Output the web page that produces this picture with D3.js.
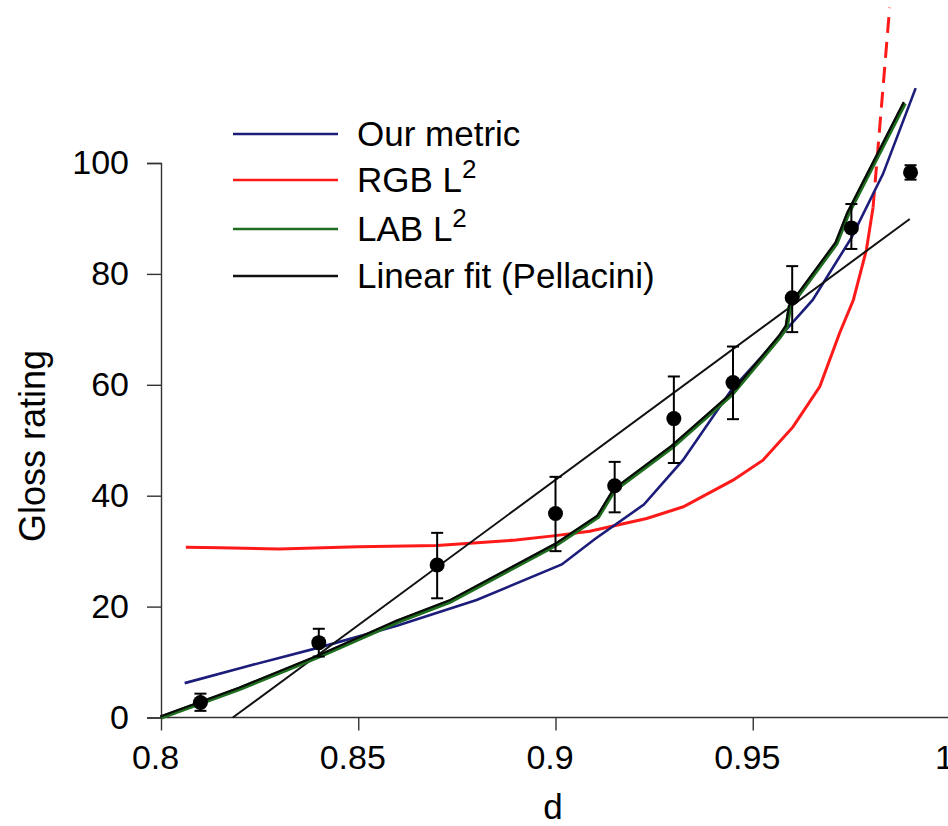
<!DOCTYPE html>
<html>
<head>
<meta charset="utf-8">
<script src="https://cdn.jsdelivr.net/npm/d3@7"></script>
<style>
    body { margin: 0; background: #fff; }
    svg { display: block; font-family: "Liberation Sans", Arial, sans-serif; }
</style>
</head>
<body>
<div id="chart"></div>
<script>
;(function () {

    // measured gloss ratings, with error bar ends
    var pointD = [0.81, 0.84, 0.87, 0.9, 0.915, 0.93, 0.945, 0.96, 0.975, 0.99];
    var pointRating = [2.7, 13.5, 27.5, 36.8, 41.8, 53.9, 60.4, 75.7, 88.3, 98.3];
    var pointLow = [1.2, 11.0, 21.5, 30.0, 37.0, 45.9, 53.8, 69.5, 84.5, 97.0];
    var pointHigh = [4.3, 16.0, 33.3, 43.4, 46.1, 61.5, 66.9, 81.4, 92.6, 99.6];

    // Our metric
    var metricD = [0.806, 0.82, 0.84, 0.86, 0.88, 0.9016, 0.91, 0.9224, 0.9323, 0.9446, 0.9569, 0.9652, 0.975, 0.983, 0.9913];
    var metricY = [6.2, 8.9, 12.6, 16.6, 21.2, 27.6, 32.2, 38.4, 46.4, 59.1, 68.7, 75.3, 86.5, 98.0, 113.5];

    // RGB L2 (solid part, then dashed continuation)
    var rgbD = [0.8063, 0.815, 0.83, 0.85, 0.87, 0.89, 0.9, 0.9087, 0.9231, 0.9324, 0.945, 0.9526, 0.9602, 0.967, 0.972, 0.9755, 0.9788, 0.9805];
    var rgbY = [30.7, 30.6, 30.4, 30.8, 31.0, 32.0, 32.8, 33.6, 35.9, 38.0, 42.8, 46.4, 52.4, 59.7, 69.3, 75.3, 84.3, 92.0];
    var rgbDashD = [0.9805, 0.9826, 0.9847];
    var rgbDashY = [92.0, 110.0, 128.0];

    // LAB L2
    var labD = [0.8, 0.82, 0.84, 0.86, 0.8732, 0.9, 0.9108, 0.9149, 0.9296, 0.9446, 0.9569, 0.9586, 0.9594, 0.9712, 0.9742, 0.9885];
    var labY = [0, 5.2, 11.0, 17.3, 20.9, 31.1, 36.2, 41.0, 48.8, 58.2, 68.7, 70.5, 74.1, 85.5, 90.9, 110.8];

    // Linear fit (Pellacini)
    var linearD = [0.8182, 0.9898];
    var linearY = [0, 89.9];

    var xTicks = [0.8, 0.85, 0.9, 0.95, 1];
    var yTicks = [0, 20, 40, 60, 80, 100];

    var legendNames = ['Our metric', 'RGB L', 'LAB L', 'Linear fit (Pellacini)'];
    var legendSup = ['', '2', '2', ''];
    var legendColors = ['#1c1c7a', '#ff1a1a', '#1f6e1f', '#111111'];

    var width = 948
        , height = 826;

    var x = d3.scaleLinear().domain([0.8, 1]).range([161, 950]);
    var y = d3.scaleLinear().domain([0, 100]).range([717.5, 163]);

    var svg = d3.select('#chart').append('svg')
        .attr('width', width)
        .attr('height', height);

    function zip(xs, ys) {
        return xs.map(function (d, i) { return [d, ys[i]]; });
    }

    var line = d3.line()
        .x(function (d) { return x(d[0]); })
        .y(function (d) { return y(d[1]); });

    // axes
    var xAxis = svg.append('g')
        .attr('transform', 'translate(0,' + y(0) + ')')
        .call(d3.axisBottom(x).tickValues(xTicks).tickSize(13).tickPadding(14)
            .tickFormat(function (d) { return d === 1 ? '1' : String(d); }));
    xAxis.select('.domain').attr('d', 'M' + x(0.8) + ',0H' + width);
    xAxis.selectAll('.tick text').attr('dx', -6);

    var yAxis = svg.append('g')
        .attr('transform', 'translate(' + x(0.8) + ',0)')
        .call(d3.axisLeft(y).tickValues(yTicks).tickSize(14).tickPadding(18));

    svg.selectAll('.domain, .tick line')
        .attr('stroke', '#333')
        .attr('stroke-width', 1.4);
    svg.selectAll('.tick text')
        .attr('font-size', 34)
        .attr('fill', '#000')
        .attr('font-family', '"Liberation Sans", Arial, sans-serif');

    svg.append('text')
        .attr('transform', 'translate(45,446) rotate(-90)')
        .attr('text-anchor', 'middle')
        .attr('font-size', 36)
        .text('Gloss rating');

    svg.append('text')
        .attr('x', 553)
        .attr('y', 819)
        .attr('text-anchor', 'middle')
        .attr('font-size', 35)
        .text('d');

    // curves
    svg.append('path')
        .datum(zip(rgbD, rgbY))
        .attr('fill', 'none')
        .attr('stroke', legendColors[1])
        .attr('stroke-width', 3)
        .attr('d', line);
    svg.append('path')
        .datum(zip(rgbDashD, rgbDashY))
        .attr('fill', 'none')
        .attr('stroke', legendColors[1])
        .attr('stroke-width', 3)
        .attr('stroke-dasharray', '16,9')
        .attr('d', line);

    svg.append('path')
        .datum(zip(metricD, metricY))
        .attr('fill', 'none')
        .attr('stroke', legendColors[0])
        .attr('stroke-width', 2.6)
        .attr('d', line);

    svg.append('path')
        .datum(zip(linearD, linearY))
        .attr('fill', 'none')
        .attr('stroke', legendColors[3])
        .attr('stroke-width', 2)
        .attr('d', line);

    svg.append('path')
        .datum(zip(labD, labY))
        .attr('fill', 'none')
        .attr('stroke', legendColors[2])
        .attr('stroke-width', 4.5)
        .attr('d', line);
    svg.append('path')
        .datum(zip(labD, labY))
        .attr('fill', 'none')
        .attr('stroke', '#0a0a0a')
        .attr('stroke-width', 2.2)
        .attr('transform', 'translate(-0.8,-1)')
        .attr('d', line);

    // error bars and points
    var pts = svg.append('g').selectAll('g')
        .data(pointD.map(function (d, i) {
            return { d: d, v: pointRating[i], lo: pointLow[i], hi: pointHigh[i] };
        }))
        .enter().append('g');

    pts.append('line')
        .attr('x1', function (p) { return x(p.d); })
        .attr('x2', function (p) { return x(p.d); })
        .attr('y1', function (p) { return y(p.lo); })
        .attr('y2', function (p) { return y(p.hi); })
        .attr('stroke', '#000')
        .attr('stroke-width', 2);
    ['lo', 'hi'].forEach(function (k) {
        pts.append('line')
            .attr('x1', function (p) { return x(p.d) - 6; })
            .attr('x2', function (p) { return x(p.d) + 6; })
            .attr('y1', function (p) { return y(p[k]); })
            .attr('y2', function (p) { return y(p[k]); })
            .attr('stroke', '#000')
            .attr('stroke-width', 2);
    });
    pts.append('circle')
        .attr('cx', function (p) { return x(p.d); })
        .attr('cy', function (p) { return y(p.v); })
        .attr('r', 7.5)
        .attr('fill', '#000');

    // legend
    var legend = svg.append('g').selectAll('g')
        .data(legendNames)
        .enter().append('g')
        .attr('transform', function (d, i) { return 'translate(233,' + [134, 180, 229, 276][i] + ')'; });

    legend.append('line')
        .attr('x1', 0)
        .attr('x2', 105)
        .attr('stroke', function (d, i) { return legendColors[i]; })
        .attr('stroke-width', 2.5);

    var lt = legend.append('text')
        .attr('x', 124)
        .attr('y', 12)
        .attr('font-size', 35)
        .text(function (d) { return d; });
    lt.append('tspan')
        .attr('dy', -14)
        .attr('font-size', 26)
        .text(function (d, i) { return legendSup[i]; });

}());
</script>
</body>
</html>
